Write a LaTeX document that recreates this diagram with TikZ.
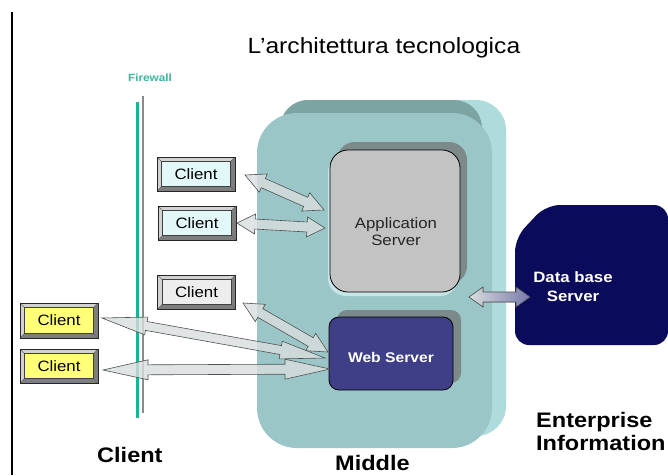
\documentclass[tikz,border=0pt]{standalone}
\usepackage{fontspec}
\setmainfont{Liberation Sans}[FakeStretch=1.12]
\usetikzlibrary{calc,shadows}
\definecolor{midface}{HTML}{9BC6C7}
\definecolor{middark}{HTML}{7CA4A3}
\definecolor{midlight}{HTML}{AEDCDD}
\definecolor{appfill}{HTML}{C3C3C3}
\definecolor{appshadow}{HTML}{7C8A8A}
\definecolor{applight}{HTML}{C8E6E6}
\definecolor{webfill}{HTML}{3E3F86}
\definecolor{dbfill}{HTML}{0B0B5C}
\definecolor{arrfill}{HTML}{DADEDE}
\definecolor{arrline}{HTML}{4E5252}
\definecolor{fwteal}{HTML}{1DB394}
\definecolor{fwgray}{HTML}{8A8A8A}
\definecolor{fwtext}{HTML}{3DB5A0}
\definecolor{cyanclient}{HTML}{E2F7F7}
\definecolor{grayclient}{HTML}{EDEDED}
\definecolor{yellowclient}{HTML}{FFFF7A}
\definecolor{bevhi}{HTML}{D2D2D2}
\definecolor{bevlo}{HTML}{7E7E7E}
\newcommand\blockarr[5]{%
  \filldraw[arrowbody] (#1)
   -- ($($(#1)!#3!(#2)$)!#4!90:(#2)$)
   -- ($($(#1)!#3!(#2)$)!#5!90:(#2)$)
   -- ($($(#2)!#3!(#1)$)!#5!-90:(#1)$)
   -- ($($(#2)!#3!(#1)$)!#4!-90:(#1)$)
   -- (#2)
   -- ($($(#2)!#3!(#1)$)!#4!90:(#1)$)
   -- ($($(#2)!#3!(#1)$)!#5!90:(#1)$)
   -- ($($(#1)!#3!(#2)$)!#5!-90:(#2)$)
   -- ($($(#1)!#3!(#2)$)!#4!-90:(#2)$)
   -- cycle;}
\tikzset{
  arrowbody/.style={fill=arrfill, fill opacity=0.8, draw=arrline, line width=0.6pt, line join=miter},
  cbox/.style={draw=black!85, line width=0.5pt, fill=bevhi, minimum width=78pt,
    minimum height=34pt, inner sep=0pt, font=\fontsize{15}{17}\selectfont,
    path picture={
      \path (path picture bounding box.south west) coordinate (pSW)
            (path picture bounding box.north east) coordinate (pNE)
            (path picture bounding box.south east) coordinate (pSE)
            (path picture bounding box.north west) coordinate (pNW);
      \fill[bevhi] (pSW) -- (pNW) -- (pNE) -- ([shift={(-4.5pt,-4.5pt)}]pNE)
        -- ([shift={(4.5pt,-4.5pt)}]pNW) -- ([shift={(4.5pt,4.5pt)}]pSW) -- cycle;
      \fill[bevlo] (pSW) -- (pSE) -- (pNE) -- ([shift={(-4.5pt,-4.5pt)}]pNE)
        -- ([shift={(-4.5pt,4.5pt)}]pSE) -- ([shift={(4.5pt,4.5pt)}]pSW) -- cycle;
      \draw[black!60, line width=0.4pt]
        (pSW) -- ([shift={(4.5pt,4.5pt)}]pSW) (pNE) -- ([shift={(-4.5pt,-4.5pt)}]pNE)
        (pSE) -- ([shift={(-4.5pt,4.5pt)}]pSE) (pNW) -- ([shift={(4.5pt,-4.5pt)}]pNW);
      \filldraw[fill=#1, draw=black!75, line width=0.5pt]
        ([shift={(4.5pt,4.5pt)}]pSW) rectangle ([shift={(-4.5pt,-4.5pt)}]pNE);
    }},
  bigfont/.style={font=\fontsize{21}{24}\bfseries\selectfont, inner sep=0pt},
}
\begin{document}
\begin{tikzpicture}[x=1pt,y=-1pt]
\useasboundingbox (0,0) rectangle (668,475);
\fill[white] (0,0) rectangle (668,475);
% left rule
\draw[black, line width=1.4pt] (12,12) -- (12,475);
% title
\node[anchor=base, inner sep=0pt, font=\fontsize{22}{26}\selectfont] (title) at (384,53) {L’architettura tecnologica};
% firewall
\node[anchor=base, inner sep=0pt, text=fwtext, font=\fontsize{10.5}{12}\bfseries\selectfont] (fwlabel) at (150,81) {Firewall};
\draw[fwteal, line width=3pt] (137,102) -- (137,418);
\draw[fwgray, line width=2.6pt] (143,96) -- (143,413);
% middle tier container
\fill[midlight, rounded corners=30pt] (300,100) rectangle (506,436);
\fill[middark, rounded corners=28pt] (280,100) rectangle (482,170);
\fill[midface, rounded corners=40pt] (257,113) -- (257,448) -- (492,448) -- (492,113) -- cycle;
\coordinate (mid) at (374,280);
% servers
\node[draw=black, line width=0.8pt, fill=appfill, rounded corners=18pt,
      minimum width=130pt, minimum height=142pt, inner sep=0pt,
      general shadow={fill=applight, shadow xshift=-2pt, shadow yshift=-4pt},
      general shadow={fill=appshadow, shadow xshift=7pt, shadow yshift=8pt}] (app) at (395,221) {};
\node[align=center, inner sep=0pt, text=black!85, font=\fontsize{15}{17}\selectfont] (apptext) at (396,232) {Application\\Server};
\node[draw=black, line width=0.8pt, fill=webfill, rounded corners=10pt,
      minimum width=124pt, minimum height=73pt, inner sep=0pt,
      general shadow={fill=appshadow, shadow xshift=8pt, shadow yshift=7pt}] (web) at (391,353.5) {};
\node[inner sep=0pt, text=white, font=\fontsize{14}{16}\bfseries\selectfont] (webtext) at (391,357) {Web Server};
% database
\fill[dbfill, rounded corners=14pt] (515,238) -- (546,205) -- (668,205) -- (668,345) -- (515,345) -- cycle;
\node[align=center, inner sep=0pt, text=white, font=\fontsize{15}{19}\bfseries\selectfont] (db) at (573,287) {Data base\\Server};
% clients
\node[cbox=cyanclient] (c1) at (196,174) {Client};
\node[cbox=cyanclient] (c2) at (197,223) {Client};
\node[cbox=grayclient] (c3) at (196.5,292) {Client};
\node[cbox=yellowclient, minimum height=35pt] (c4) at (59,320.5) {Client};
\node[cbox=yellowclient] (c5) at (59,366) {Client};
% arrow end points
\coordinate (a1s) at (245,175);  \coordinate (a1e) at (324,210);
\coordinate (a2s) at (237,223);  \coordinate (a2e) at (325,228);
\coordinate (a3s) at (243,303);  \coordinate (a3e) at (328,352);
\coordinate (a4s) at (102,318);  \coordinate (a4e) at (325,358);
\coordinate (a5s) at (103,370);  \coordinate (a5e) at (330,369);
\coordinate (dbs) at (469,297);  \coordinate (dbe) at (530,297);
\blockarr{a1s}{a1e}{20pt}{10pt}{5pt}
\blockarr{a2s}{a2e}{18pt}{10pt}{5pt}
\blockarr{a3s}{a3e}{20pt}{10pt}{5pt}
\blockarr{a4s}{a4e}{45pt}{9pt}{4.5pt}
\blockarr{a5s}{a5e}{45pt}{10pt}{5pt}
\tikzset{arrowbody/.style={left color=arrfill, right color=webfill!70, draw=arrline, line width=0.6pt}}
\blockarr{dbs}{dbe}{14pt}{10pt}{5pt}
% tier labels
\node[bigfont, anchor=base west] (lclient) at (97,462) {Client};
\node[bigfont, anchor=base west] (lmiddle) at (335,470) {Middle};
\node[bigfont, anchor=base west] (lent1) at (536,427) {Enterprise};
\node[bigfont, anchor=base west] (lent2) at (536,450) {Information};
\end{tikzpicture}
\end{document}
